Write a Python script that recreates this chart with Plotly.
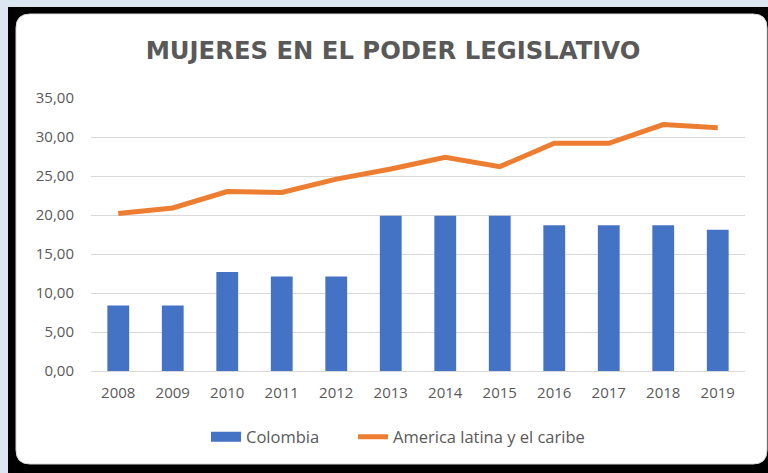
import plotly.graph_objects as go

years = ["2008", "2009", "2010", "2011", "2012", "2013", "2014", "2015", "2016", "2017", "2018", "2019"]
colombia = [8.4, 8.4, 12.7, 12.1, 12.1, 19.9, 19.9, 19.9, 18.7, 18.7, 18.7, 18.1]
america_latina = [20.2, 20.9, 23.0, 22.9, 24.6, 25.9, 27.4, 26.2, 29.2, 29.2, 31.6, 31.2]

W, H = 768, 473
L, R, T, B = 91, 745, 98, 371
pw, ph = R - L, B - T

def px(x):
    return (x - L) / pw

def py(y):
    return (B - y) / ph

BLUE = "#4472c4"
ORANGE = "#ed7d31"

fig = go.Figure()
fig.add_trace(go.Bar(
    x=years, y=colombia, name="Colombia", width=0.4, showlegend=False,
    marker=dict(color=BLUE, line=dict(width=0)),
))
# legend proxy for the bar series (wide rectangle swatch like the original)
fig.add_trace(go.Scatter(
    x=[None], y=[None], name="Colombia", mode="lines",
    line=dict(color=BLUE, width=10), legend="legend",
))
fig.add_trace(go.Scatter(
    x=years, y=america_latina, name="America latina y el caribe", mode="lines",
    line=dict(color=ORANGE, width=5), legend="legend2",
))

# frame + card
x0, x1, y0, y1, r = 16, 767, 14, 464, 14
card = (f"M {px(x0+r)},{py(y0)} L {px(x1-r)},{py(y0)} "
        f"Q {px(x1)},{py(y0)} {px(x1)},{py(y0+r)} "
        f"L {px(x1)},{py(y1-r)} Q {px(x1)},{py(y1)} {px(x1-r)},{py(y1)} "
        f"L {px(x0+r)},{py(y1)} Q {px(x0)},{py(y1)} {px(x0)},{py(y1-r)} "
        f"L {px(x0)},{py(y0+r)} Q {px(x0)},{py(y0)} {px(x0+r)},{py(y0)} Z")
fig.update_layout(shapes=[
    dict(type="rect", xref="paper", yref="paper", x0=px(8), x1=px(800), y0=py(7), y1=py(480),
         fillcolor="#000000", line=dict(width=0), layer="below"),
    dict(type="path", xref="paper", yref="paper", path=card,
         fillcolor="#ffffff", line=dict(color="#d9d9d9", width=1), layer="below"),
])

legend_common = dict(orientation="h", yanchor="middle", xanchor="left",
                     font=dict(size=16.5, color="#595959"), bgcolor="rgba(0,0,0,0)",
                     itemwidth=30)

fig.update_layout(
    width=W, height=H,
    margin=dict(l=L, r=W - R, t=T, b=H - B, pad=0),
    paper_bgcolor="#dce6f1",
    plot_bgcolor="rgba(0,0,0,0)",
    separators=",.",
    font=dict(family="Open Sans, sans-serif", color="#595959", size=15),
    title=dict(text="<b>MUJERES EN EL PODER LEGISLATIVO</b>", xref="container", x=393 / W,
               xanchor="center", y=1 - 50.5 / H, yanchor="middle",
               font=dict(size=24.3, color="#595959", family="DejaVu Sans, sans-serif")),
    bargap=0.6,
    showlegend=True,
    legend=dict(x=px(206), y=py(437), **legend_common),
    legend2=dict(x=px(353), y=py(437), **legend_common),
    xaxis=dict(showgrid=False, showline=True, linecolor="#d9d9d9", linewidth=1, ticks="",
               ticklabelstandoff=8, tickfont=dict(size=15, color="#595959")),
    yaxis=dict(range=[0, 35], dtick=5, tickformat=".2f", showgrid=True, gridcolor="#d9d9d9",
               gridwidth=1, zeroline=False, ticks="", ticklabelstandoff=16,
               tickfont=dict(size=15, color="#595959")),
)

fig.write_html("out.html", config={"displayModeBar": False},
               post_script="document.body.style.margin='0';")
